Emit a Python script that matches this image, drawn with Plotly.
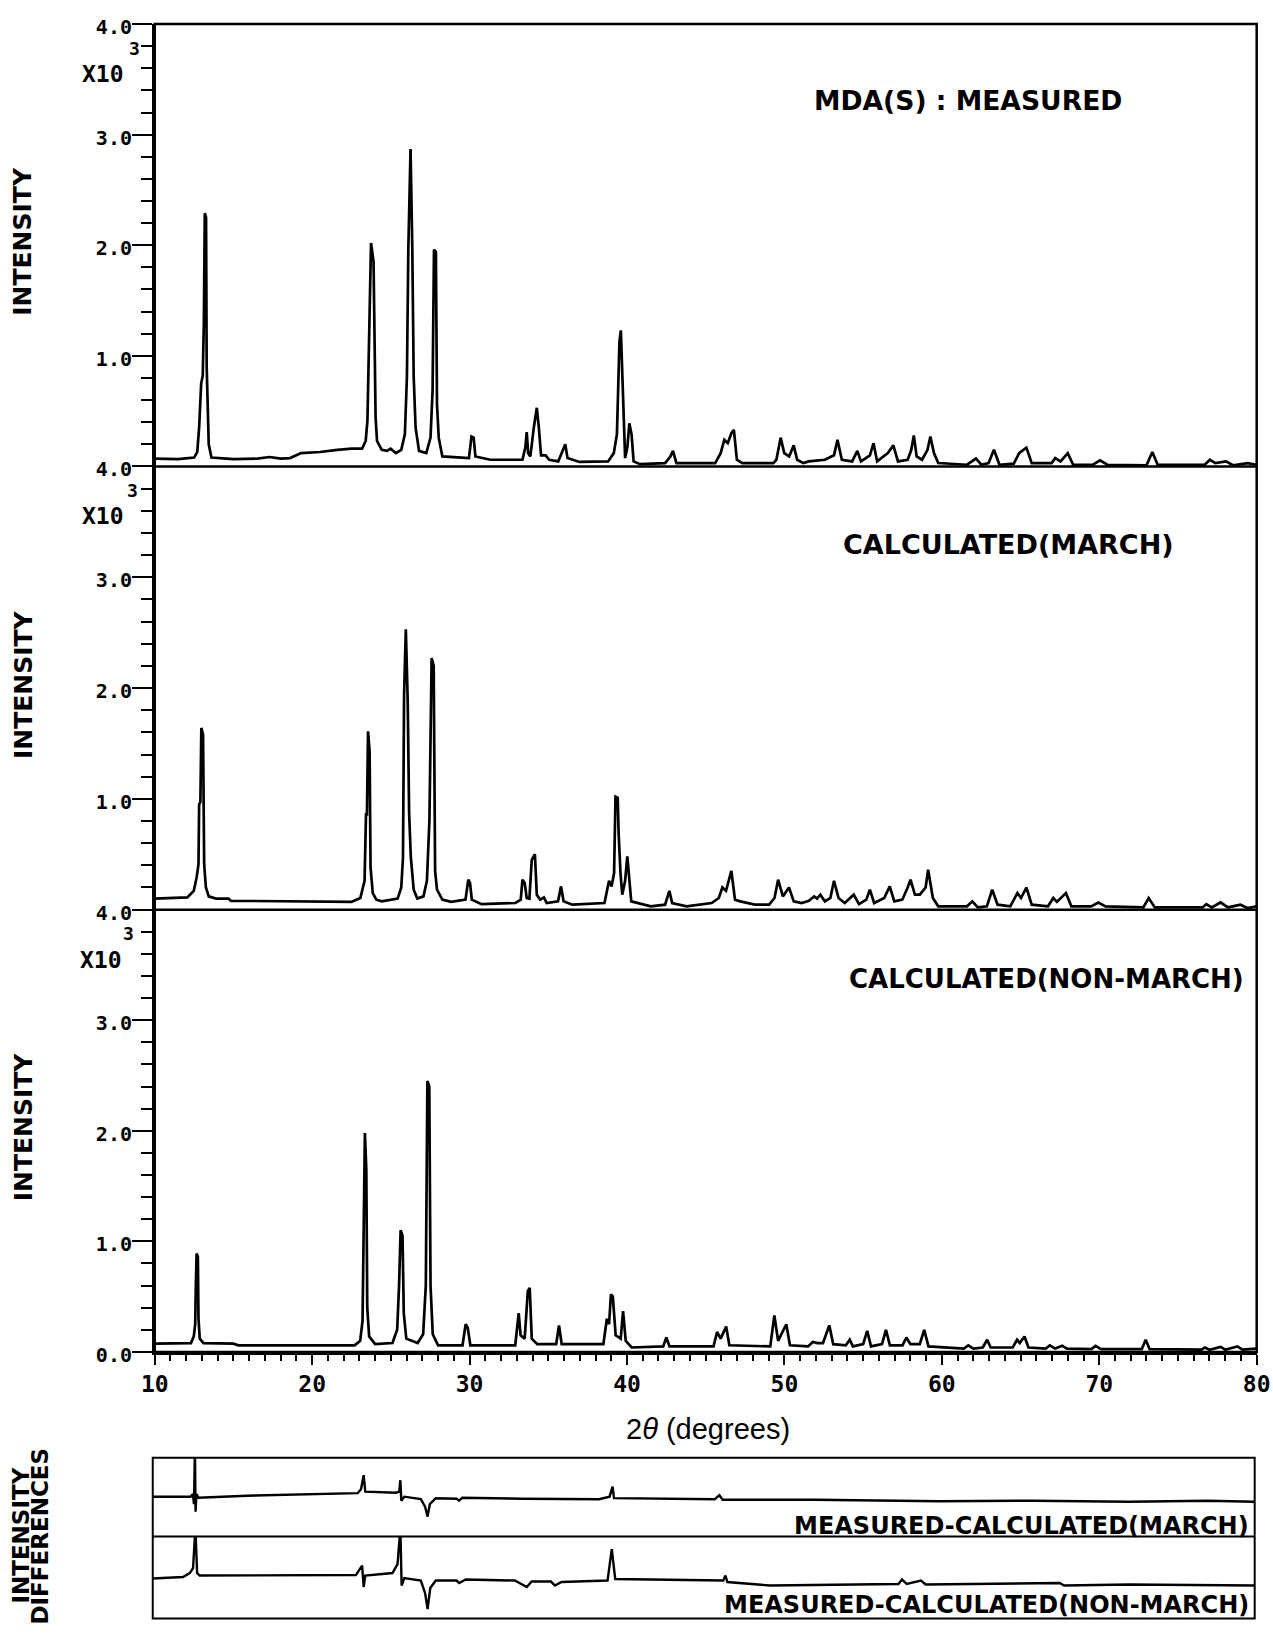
import plotly.graph_objects as go

# Calibration of the capture (page margin + slight rescale): every pixel
# position below is given in final screenshot pixels and converted here.
AX, SX = 12.0, 0.980
AY, SY = 7.85, 0.987
W, H = 1283, 1640

# ---------------- data (2theta in degrees, intensity in units of 10^3 counts) ----------------
measured = [
    (10.0, 0.07), (11.5, 0.065), (12.5, 0.08), (12.7, 0.13), (12.82, 0.35), (12.95, 0.75),
    (13.05, 0.82), (13.12, 1.3), (13.18, 2.29), (13.26, 2.25), (13.3, 0.9), (13.36, 0.5),
    (13.43, 0.2), (13.6, 0.08), (15.0, 0.065), (16.5, 0.07), (17.3, 0.085), (18.0, 0.07),
    (18.6, 0.075), (19.3, 0.12), (20.5, 0.13), (21.6, 0.15), (22.5, 0.16), (23.17, 0.16),
    (23.4, 0.23), (23.51, 0.41), (23.62, 1.08), (23.74, 2.02), (23.9, 1.85), (24.03, 0.44),
    (24.12, 0.23), (24.42, 0.15), (24.76, 0.14), (24.98, 0.16), (25.32, 0.12), (25.66, 0.15),
    (25.89, 0.29), (26.02, 0.81), (26.11, 1.97), (26.25, 2.87), (26.36, 1.99), (26.45, 0.81),
    (26.57, 0.35), (26.79, 0.14), (27.25, 0.12), (27.52, 0.26), (27.65, 0.69), (27.74, 1.96),
    (27.86, 1.94), (27.93, 0.56), (28.04, 0.26), (28.27, 0.09), (29.96, 0.075), (30.12, 0.27),
    (30.26, 0.26), (30.37, 0.09), (31.32, 0.06), (33.36, 0.06), (33.54, 0.17), (33.63, 0.31),
    (33.72, 0.12), (33.86, 0.09), (34.08, 0.35), (34.27, 0.53), (34.4, 0.35), (34.54, 0.1),
    (34.83, 0.1), (35.06, 0.06), (35.63, 0.045), (35.97, 0.17), (36.08, 0.2), (36.22, 0.075),
    (36.98, 0.04), (38.8, 0.045), (39.16, 0.12), (39.36, 0.29), (39.52, 1.13), (39.61, 1.23),
    (39.75, 0.53), (39.88, 0.075), (40.02, 0.17), (40.15, 0.39), (40.29, 0.29), (40.42, 0.045),
    (40.83, 0.02), (42.42, 0.03), (42.76, 0.09), (42.92, 0.14), (43.14, 0.03), (45.6, 0.03),
    (45.95, 0.12), (46.18, 0.24), (46.4, 0.21), (46.63, 0.3), (46.79, 0.33), (46.98, 0.06),
    (47.32, 0.03), (49.3, 0.03), (49.49, 0.06), (49.76, 0.26), (49.99, 0.12), (50.3, 0.09),
    (50.59, 0.19), (50.81, 0.06), (51.2, 0.03), (51.55, 0.045), (52.57, 0.06), (53.15, 0.1),
    (53.37, 0.24), (53.65, 0.06), (54.3, 0.045), (54.63, 0.14), (54.86, 0.045), (55.43, 0.1),
    (55.66, 0.21), (55.89, 0.045), (56.57, 0.12), (56.92, 0.19), (57.21, 0.045), (57.83, 0.06),
    (58.06, 0.15), (58.22, 0.28), (58.4, 0.09), (58.74, 0.06), (59.09, 0.15), (59.27, 0.27),
    (59.5, 0.12), (59.77, 0.03), (61.6, 0.015), (62.17, 0.07), (62.51, 0.015), (62.97, 0.03),
    (63.31, 0.15), (63.66, 0.015), (64.57, 0.025), (64.91, 0.12), (65.37, 0.17), (65.71, 0.03),
    (66.97, 0.03), (67.2, 0.075), (67.54, 0.045), (68.0, 0.12), (68.34, 0.015), (69.6, 0.015),
    (70.05, 0.055), (70.51, 0.015), (73.0, 0.01), (73.37, 0.13), (73.71, 0.015), (76.7, 0.015),
    (77.03, 0.06), (77.37, 0.03), (78.05, 0.045), (78.5, 0.01), (79.42, 0.03), (80.0, 0.015),
]

calc_march = [
    (10.0, 0.1), (12.07, 0.11), (12.48, 0.17), (12.66, 0.29), (12.78, 0.41), (12.82, 0.95),
    (12.9, 0.97), (12.96, 1.64), (13.07, 1.58), (13.14, 0.41), (13.25, 0.2), (13.43, 0.12),
    (13.89, 0.1), (14.68, 0.1), (14.84, 0.08), (22.49, 0.07), (23.06, 0.105), (23.33, 0.26),
    (23.42, 0.86), (23.48, 0.86), (23.55, 1.61), (23.65, 1.43), (23.71, 0.38), (23.85, 0.15),
    (24.08, 0.09), (24.42, 0.075), (25.43, 0.1), (25.66, 0.2), (25.77, 0.47), (25.84, 1.94),
    (25.95, 2.53), (26.07, 1.88), (26.16, 0.87), (26.27, 0.47), (26.45, 0.18), (26.68, 0.1),
    (27.07, 0.12), (27.29, 0.26), (27.45, 0.81), (27.59, 2.27), (27.72, 2.2), (27.81, 0.35),
    (27.93, 0.18), (28.27, 0.09), (28.83, 0.07), (29.74, 0.09), (29.92, 0.27), (30.03, 0.24),
    (30.14, 0.09), (30.76, 0.05), (32.91, 0.06), (33.25, 0.09), (33.36, 0.27), (33.5, 0.24),
    (33.63, 0.105), (33.8, 0.1), (33.95, 0.45), (34.15, 0.5), (34.27, 0.135), (34.49, 0.09),
    (34.72, 0.11), (34.9, 0.06), (35.62, 0.075), (35.81, 0.21), (35.97, 0.075), (36.53, 0.045),
    (38.57, 0.06), (38.86, 0.26), (39.02, 0.21), (39.18, 0.33), (39.27, 1.02), (39.41, 1.01),
    (39.47, 0.68), (39.59, 0.32), (39.7, 0.135), (39.88, 0.26), (40.02, 0.48), (40.15, 0.23),
    (40.27, 0.075), (41.51, 0.03), (42.42, 0.045), (42.69, 0.17), (42.87, 0.06), (43.78, 0.03),
    (45.38, 0.06), (45.83, 0.105), (46.06, 0.2), (46.29, 0.17), (46.63, 0.35), (46.86, 0.09),
    (47.2, 0.075), (48.12, 0.045), (49.03, 0.045), (49.37, 0.105), (49.6, 0.27), (49.9, 0.12),
    (50.29, 0.2), (50.59, 0.075), (51.09, 0.06), (51.55, 0.08), (51.89, 0.12), (52.07, 0.1),
    (52.28, 0.135), (52.57, 0.075), (52.92, 0.105), (53.15, 0.26), (53.44, 0.105), (53.83, 0.06),
    (54.4, 0.135), (54.74, 0.05), (55.2, 0.09), (55.43, 0.18), (55.7, 0.06), (56.34, 0.105),
    (56.69, 0.21), (56.98, 0.075), (57.49, 0.09), (57.83, 0.2), (58.01, 0.27), (58.29, 0.135),
    (58.6, 0.135), (58.97, 0.2), (59.13, 0.36), (59.43, 0.105), (59.77, 0.03), (61.6, 0.03),
    (61.94, 0.075), (62.28, 0.02), (62.86, 0.03), (63.2, 0.18), (63.54, 0.045), (64.35, 0.03),
    (64.8, 0.15), (65.03, 0.105), (65.37, 0.2), (65.71, 0.045), (66.74, 0.03), (67.08, 0.105),
    (67.31, 0.07), (67.88, 0.15), (68.23, 0.03), (69.48, 0.03), (69.94, 0.065), (70.4, 0.03),
    (72.8, 0.02), (73.14, 0.105), (73.53, 0.02), (76.57, 0.02), (76.8, 0.05), (77.14, 0.02),
    (77.71, 0.065), (78.17, 0.02), (78.97, 0.045), (79.42, 0.015), (80.0, 0.03),
]

calc_nonmarch = [
    (10.0, 0.075), (12.3, 0.08), (12.48, 0.14), (12.57, 0.25), (12.61, 0.6), (12.66, 0.89),
    (12.74, 0.86), (12.78, 0.3), (12.86, 0.12), (13.1, 0.08), (15.0, 0.075), (15.3, 0.06),
    (22.7, 0.06), (23.05, 0.1), (23.2, 0.28), (23.27, 1.0), (23.35, 1.98), (23.44, 1.65),
    (23.5, 0.4), (23.62, 0.14), (24.0, 0.07), (25.1, 0.08), (25.4, 0.2), (25.52, 0.6),
    (25.62, 1.1), (25.74, 1.05), (25.82, 0.35), (25.98, 0.12), (26.7, 0.08), (27.05, 0.16),
    (27.22, 0.6), (27.32, 2.45), (27.44, 2.4), (27.52, 0.6), (27.66, 0.16), (28.0, 0.06),
    (29.55, 0.06), (29.75, 0.25), (29.88, 0.22), (30.05, 0.06), (32.9, 0.06), (33.12, 0.35),
    (33.24, 0.15), (33.5, 0.12), (33.7, 0.55), (33.82, 0.58), (33.95, 0.12), (34.3, 0.07),
    (35.5, 0.07), (35.68, 0.24), (35.85, 0.07), (38.5, 0.07), (38.72, 0.3), (38.86, 0.25),
    (38.98, 0.52), (39.1, 0.5), (39.28, 0.15), (39.6, 0.12), (39.75, 0.37), (39.92, 0.1),
    (40.3, 0.04), (42.3, 0.05), (42.5, 0.13), (42.7, 0.05), (45.5, 0.05), (45.72, 0.18),
    (45.95, 0.12), (46.3, 0.23), (46.5, 0.06), (49.1, 0.05), (49.36, 0.33), (49.6, 0.1),
    (50.12, 0.25), (50.35, 0.06), (51.5, 0.05), (51.8, 0.09), (52.1, 0.08), (52.45, 0.08),
    (52.85, 0.24), (53.1, 0.07), (53.9, 0.06), (54.15, 0.11), (54.35, 0.05), (55.0, 0.07),
    (55.26, 0.19), (55.5, 0.05), (56.2, 0.07), (56.45, 0.2), (56.7, 0.06), (57.5, 0.06),
    (57.75, 0.13), (58.0, 0.07), (58.6, 0.07), (58.88, 0.2), (59.15, 0.05), (61.4, 0.03),
    (61.68, 0.06), (62.0, 0.03), (62.6, 0.04), (62.88, 0.11), (63.1, 0.04), (64.5, 0.04),
    (64.78, 0.11), (64.95, 0.08), (65.25, 0.14), (65.5, 0.04), (66.6, 0.03), (66.86, 0.06),
    (67.2, 0.03), (67.65, 0.055), (67.95, 0.03), (69.5, 0.025), (69.77, 0.055), (70.1, 0.025),
    (72.7, 0.025), (72.95, 0.11), (73.2, 0.025), (76.5, 0.02), (76.71, 0.04), (77.0, 0.02),
    (77.71, 0.045), (78.0, 0.02), (78.77, 0.05), (79.1, 0.02), (80.0, 0.03),
]

diff_march = [
    (10.0, 0.0), (12.4, 0.0), (12.55, 0.05), (12.62, -0.15), (12.68, 1.0), (12.72, -0.3),
    (12.78, 0.05), (12.9, -0.02), (16.0, 0.02), (20.0, 0.05), (23.02, 0.07), (23.23, 0.15),
    (23.4, 0.43), (23.5, 0.1), (25.45, 0.08), (25.66, 0.1), (25.73, 0.33), (25.79, -0.08),
    (25.98, 0.0), (27.03, -0.05), (27.3, -0.2), (27.46, -0.4), (27.6, -0.15), (27.98, -0.03),
    (29.3, -0.04), (29.46, -0.08), (29.67, -0.02), (33.5, -0.04), (38.35, -0.05), (39.02, 0.0),
    (39.21, 0.2), (39.3, -0.03), (45.7, -0.05), (46.0, 0.03), (46.2, -0.06), (52.0, -0.06),
    (56.0, -0.08), (60.0, -0.09), (66.0, -0.08), (72.0, -0.1), (77.0, -0.08), (80.0, -0.1),
]

diff_nonmarch = [
    (10.0, -0.01), (11.92, 0.02), (12.35, 0.1), (12.56, 0.2), (12.71, 1.0), (12.82, 0.1),
    (12.98, 0.05), (18.0, 0.05), (22.9, 0.06), (23.3, 0.25), (23.4, -0.18), (23.5, 0.05),
    (25.23, 0.1), (25.55, 0.28), (25.73, 1.0), (25.81, -0.15), (25.98, 0.0), (27.03, -0.05),
    (27.3, -0.3), (27.46, -0.62), (27.63, -0.2), (27.98, -0.05), (29.3, -0.05), (29.46, -0.1),
    (29.88, -0.03), (33.0, -0.05), (33.76, -0.18), (34.07, -0.07), (35.3, -0.07), (35.55, -0.15),
    (35.97, -0.08), (38.89, -0.05), (39.16, 0.58), (39.38, -0.02), (46.24, -0.05), (46.38, 0.05),
    (46.5, -0.08), (49.2, -0.15), (57.37, -0.12), (57.6, -0.03), (57.9, -0.12), (58.8, -0.05),
    (59.1, -0.13), (67.6, -0.1), (67.9, -0.15), (72.0, -0.13), (80.0, -0.15),
]

x_ticks = [10, 20, 30, 40, 50, 60, 70, 80]
x_tick_labels = ["10", "20", "30", "40", "50", "60", "70", "80"]
y_ticks_upper = [1, 2, 3, 4]
y_labels_upper = ["1.0", "2.0", "3.0", "4.0"]
y_ticks_lower = [0, 1, 2, 3, 4]
y_labels_lower = ["0.0", "1.0", "2.0", "3.0", "4.0"]
panel_titles = ["MDA(S) : MEASURED", "CALCULATED(MARCH)", "CALCULATED(NON-MARCH)"]
diff_titles = ["MEASURED-CALCULATED(MARCH)", "MEASURED-CALCULATED(NON-MARCH)"]


# ---------------- helpers (screenshot pixel -> paper) ----------------
def px(p):
    return ((p - AX) / SX) / W


def py(p):
    return 1 - ((p - AY) / SY) / H


LINE = dict(color="black", width=2.7)
BOLD = "DejaVu Sans"
MONO = "DejaVu Sans Mono"

fig = go.Figure()
for series, ya in [(measured, "y"), (calc_march, "y2"), (calc_nonmarch, "y3")]:
    fig.add_trace(go.Scatter(x=[p[0] for p in series], y=[p[1] for p in series],
                             mode="lines", line=LINE, xaxis="x", yaxis=ya,
                             showlegend=False, hoverinfo="skip"))
for series, ya in [(diff_march, "y4"), (diff_nonmarch, "y5")]:
    fig.add_trace(go.Scatter(x=[p[0] for p in series], y=[p[1] for p in series],
                             mode="lines", line=dict(color="black", width=2.4), xaxis="x2", yaxis=ya,
                             showlegend=False, hoverinfo="skip"))

ytickfont = dict(family=MONO, size=20, color="black", weight="bold")
xtickfont = dict(family=MONO, size=23, color="black", weight="bold")


def yaxis_cfg(top, bottom, vals, texts):
    return dict(domain=[py(bottom), py(top)], range=[0, 4], anchor="x",
                tickmode="array", tickvals=vals, ticktext=texts,
                ticks="outside", ticklen=20, tickwidth=2, tickcolor="black",
                showline=True, linewidth=2.5, linecolor="black",
                showgrid=False, zeroline=False, tickfont=ytickfont, ticklabelshift=3,
                ticklabelstandoff=-4,
                minor=dict(ticks="outside", ticklen=11, tickwidth=2, tickcolor="black",
                           tickmode="linear", tick0=0, dtick=0.2, showgrid=False),
                fixedrange=True)


T1, B1, B2, B3 = 23, 466, 910, 1353
XL, XR = 153, 1257
DT, DM, DB = 1459, 1538, 1620
DXL, DXR = 151, 1255

fig.update_layout(
    width=W, height=H, margin=dict(l=0, r=0, t=0, b=0),
    paper_bgcolor="white", plot_bgcolor="white", showlegend=False,
    xaxis=dict(domain=[px(XL), px(XR)], range=[10, 80], anchor="y3",
               tickmode="array", tickvals=x_ticks, ticktext=x_tick_labels,
               ticks="outside", ticklen=10, tickwidth=2, tickcolor="black",
               showline=True, linewidth=2.5, linecolor="black",
               showgrid=False, zeroline=False, tickfont=xtickfont,
               ticklabeloverflow="allow",
               minor=dict(ticks="outside", ticklen=6, tickwidth=1.5, tickcolor="black",
                          tickmode="linear", tick0=10, dtick=1, showgrid=False),
               fixedrange=True),
    xaxis2=dict(domain=[px(DXL), px(DXR)], range=[10, 80], anchor="y4", visible=False,
                fixedrange=True),
    yaxis=yaxis_cfg(T1, B1, y_ticks_upper, y_labels_upper),
    yaxis2=yaxis_cfg(B1, B2, y_ticks_upper, y_labels_upper),
    yaxis3=yaxis_cfg(B2, B3, y_ticks_lower, y_labels_lower),
    yaxis4=dict(domain=[py(DM), py(DT)], range=[-0.8, 0.78], anchor="x2", visible=False,
                fixedrange=True),
    yaxis5=dict(domain=[py(DB), py(DM)], range=[-0.81, 0.83], anchor="x2", visible=False,
                fixedrange=True),
)

shapes = [
    dict(type="rect", xref="paper", yref="paper", x0=px(XL), x1=px(XR), y0=py(B3), y1=py(T1),
         line=dict(color="black", width=2.5)),
    dict(type="line", xref="paper", yref="paper", x0=px(XL), x1=px(XR), y0=py(B1), y1=py(B1),
         line=dict(color="black", width=2.5)),
    dict(type="line", xref="paper", yref="paper", x0=px(XL), x1=px(XR), y0=py(B2), y1=py(B2),
         line=dict(color="black", width=2.5)),
    dict(type="rect", xref="paper", yref="paper", x0=px(DXL), x1=px(DXR), y0=py(DB), y1=py(DT),
         line=dict(color="black", width=2)),
    dict(type="line", xref="paper", yref="paper", x0=px(DXL), x1=px(DXR), y0=py(DM), y1=py(DM),
         line=dict(color="black", width=2)),
]
fig.update_layout(shapes=shapes)


def ann(text, x, y, size, family=BOLD, xanchor="center", yanchor="middle", angle=0, bold=True):
    return dict(text=(f"<b>{text}</b>" if bold else text), x=px(x), y=py(y),
                xref="paper", yref="paper", showarrow=False, xanchor=xanchor, yanchor=yanchor,
                textangle=angle, font=dict(family=family, size=size, color="black"))


annotations = [
    ann(panel_titles[0], 968, 100, 26.6),
    ann(panel_titles[1], 1008, 544, 27),
    ann(panel_titles[2], 1046, 979, 26),
    ann(diff_titles[0], 1251, 1527, 24, xanchor="right"),
    ann(diff_titles[1], 1251, 1606, 24, xanchor="right"),
    ann("INTENSITY", 21, 240, 25, angle=-90),
    ann("INTENSITY", 21, 684, 25, angle=-90),
    ann("INTENSITY", 21, 1127, 25, angle=-90),
    ann("INTENSITY", 19, 1537, 23, angle=-90),
    ann("DIFFERENCES", 38, 1537, 23, angle=-90),
    ann("2<i>θ</i> (degrees)", 707, 1430, 29, family="Liberation Sans", bold=False),
]
# exponent markers "x10^3" for each panel (superscript 3 above the "X10")
for top, x3, xx in [(T1, 140, 124), (B1, 138, 124), (B2, 134, 122)]:
    annotations.append(ann("3", x3, top + 24, 18, family=MONO, xanchor="right"))
    annotations.append(ann("X10", xx, top + 50, 23, family=MONO, xanchor="right"))
fig.update_layout(annotations=annotations)

fig.write_html("out.html")
